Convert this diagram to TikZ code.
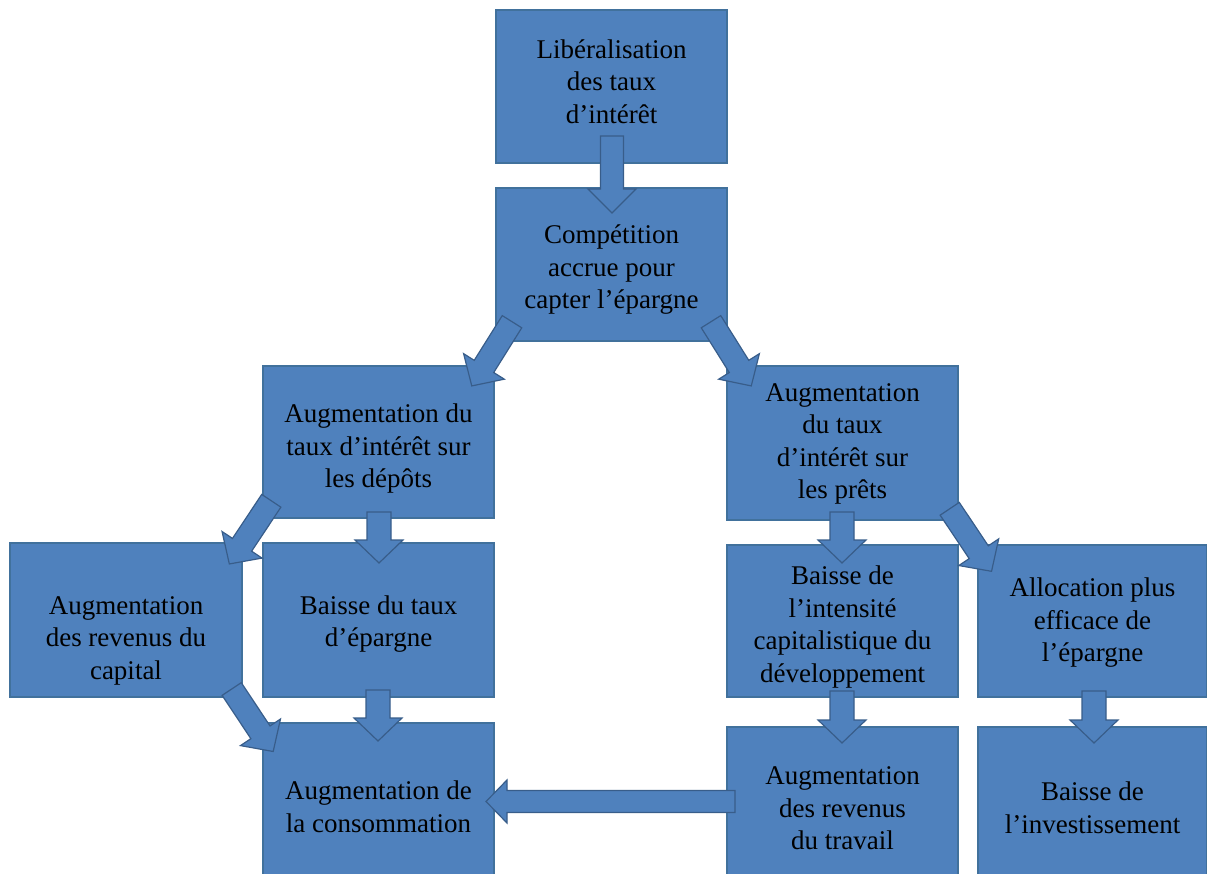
\documentclass[tikz,border=0pt]{standalone}
\usepackage{fontspec}
\setmainfont{Liberation Serif}
\usetikzlibrary{calc}
\definecolor{boxblue}{RGB}{79,129,189}
\definecolor{boxedge}{RGB}{65,113,156}
\definecolor{arredge}{RGB}{56,93,138}
\tikzset{
  box/.style={draw=boxedge, fill=boxblue, line width=1.3pt, rectangle, inner sep=0pt, outer sep=0pt},
  txt/.style={align=center, font=\fontsize{27}{32.5}\selectfont, text=black, inner sep=0pt},
  arrowshape/.style={draw=arredge, fill=boxblue, line width=1.2pt, line join=miter}
}
% #1 start coordinate, #2 tip coordinate, #3 half shaft width, #4 half head width, #5 head length
\newcommand{\blockarrow}[5]{%
  \path let \p1=(#1),\p2=(#2),\n1={atan2(\y2-\y1,\x2-\x1)},\n2={veclen(\x2-\x1,\y2-\y1)} in
    \pgfextra{\xdef\barang{\n1}\xdef\barlen{\n2}};
  \draw[arrowshape,shift={(#1)},rotate=\barang]
    (0pt,{-#3pt}) -- ({\barlen-#5pt},{-#3pt}) -- ({\barlen-#5pt},{-#4pt}) --
    ({\barlen+0pt},0pt) -- ({\barlen-#5pt},{#4pt}) -- ({\barlen-#5pt},{#3pt}) --
    (0pt,{#3pt}) -- cycle;
}
\begin{document}
\begin{tikzpicture}[x=1pt,y=1pt]
\useasboundingbox (0,0) rectangle (1207,-874);
\begin{scope}
\clip (0,0) rectangle (1207,-874);
% boxes
\node[box, minimum width=231pt, minimum height=153pt] (L1) at (611.5,-86.5) {};
\node[box, minimum width=231pt, minimum height=153pt] (C2) at (611.5,-264.5) {};
\node[box, minimum width=231pt, minimum height=152pt] (LM) at (378.5,-442) {};
\node[box, minimum width=231pt, minimum height=154pt] (RM) at (842.5,-443) {};
\node[box, minimum width=232pt, minimum height=154pt] (A) at (126,-620) {};
\node[box, minimum width=231pt, minimum height=154pt] (B) at (378.5,-620) {};
\node[box, minimum width=231pt, minimum height=152pt] (C) at (842.5,-621) {};
\node[box, minimum width=229pt, minimum height=152pt] (D) at (1092.5,-621) {};
\node[box, minimum width=231pt, minimum height=153pt] (E) at (378.5,-799.5) {};
\node[box, minimum width=231pt, minimum height=149pt] (F) at (842.5,-801.5) {};
\node[box, minimum width=229pt, minimum height=149pt] (G) at (1092.5,-801.5) {};
\end{scope}
% texts
\node[txt] (tL1) at (611.5,-81.5) {Libéralisation\\des taux\\d’intérêt};
\node[txt] (tC2) at (611.5,-270) {Compétition\\accrue pour\\capter l’épargne};
\node[txt] (tLM) at (378.5,-449) {Augmentation du\\taux d’intérêt sur\\les dépôts};
\node[txt] (tRM) at (842.5,-444) {Augmentation\\du taux\\d’intérêt sur\\les prêts};
\node[txt] (tA) at (126,-640.5) {Augmentation\\des revenus du\\capital};
\node[txt] (tB) at (378.5,-624) {Baisse du taux\\d’épargne};
\node[txt] (tC) at (842.5,-627) {Baisse de\\l’intensité\\capitalistique du\\développement};
\node[txt] (tD) at (1092.5,-623) {Allocation plus\\efficace de\\l’épargne};
\node[txt] (tE) at (378.5,-807) {Augmentation de\\la consommation};
\node[txt] (tF) at (842.5,-808.5) {Augmentation\\des revenus\\du travail};
\node[txt] (tG) at (1092.5,-808) {Baisse de\\l’investissement};
% arrow end points
\coordinate (s1) at (612,-136);   \coordinate (e1) at (612,-213);
\coordinate (s2) at (512,-321.7); \coordinate (e2) at (471.7,-386);
\coordinate (s3) at (711,-321.7); \coordinate (e3) at (751.3,-386);
\coordinate (s4) at (271.3,-500.8); \coordinate (e4) at (229.3,-564);
\coordinate (s5) at (379,-512);   \coordinate (e5) at (379,-563);
\coordinate (s6) at (231.7,-689); \coordinate (e6) at (273.2,-751.5);
\coordinate (s7) at (378,-690);   \coordinate (e7) at (378,-741);
\coordinate (s8) at (842,-512);   \coordinate (e8) at (842,-563);
\coordinate (s9) at (949.7,-508.8); \coordinate (e9) at (991.6,-571.4);
\coordinate (s10) at (842,-691);  \coordinate (e10) at (842,-743);
\coordinate (s11) at (1094,-691); \coordinate (e11) at (1094,-743);
\coordinate (s12) at (735,-801.5); \coordinate (e12) at (486,-801.5);
% arrows
\blockarrow{s1}{e1}{11.5}{24}{24}
\blockarrow{s2}{e2}{11.5}{24}{23}
\blockarrow{s3}{e3}{11.5}{24}{23}
\blockarrow{s4}{e4}{11.5}{24}{23}
\blockarrow{s5}{e5}{12}{24}{23}
\blockarrow{s6}{e6}{11.5}{24}{23}
\blockarrow{s7}{e7}{12}{24}{23}
\blockarrow{s8}{e8}{12}{24}{23}
\blockarrow{s9}{e9}{11.5}{24}{23}
\blockarrow{s10}{e10}{12}{24}{23}
\blockarrow{s11}{e11}{12}{24}{23}
\blockarrow{s12}{e12}{11}{21.5}{21}
\end{tikzpicture}
\end{document}
